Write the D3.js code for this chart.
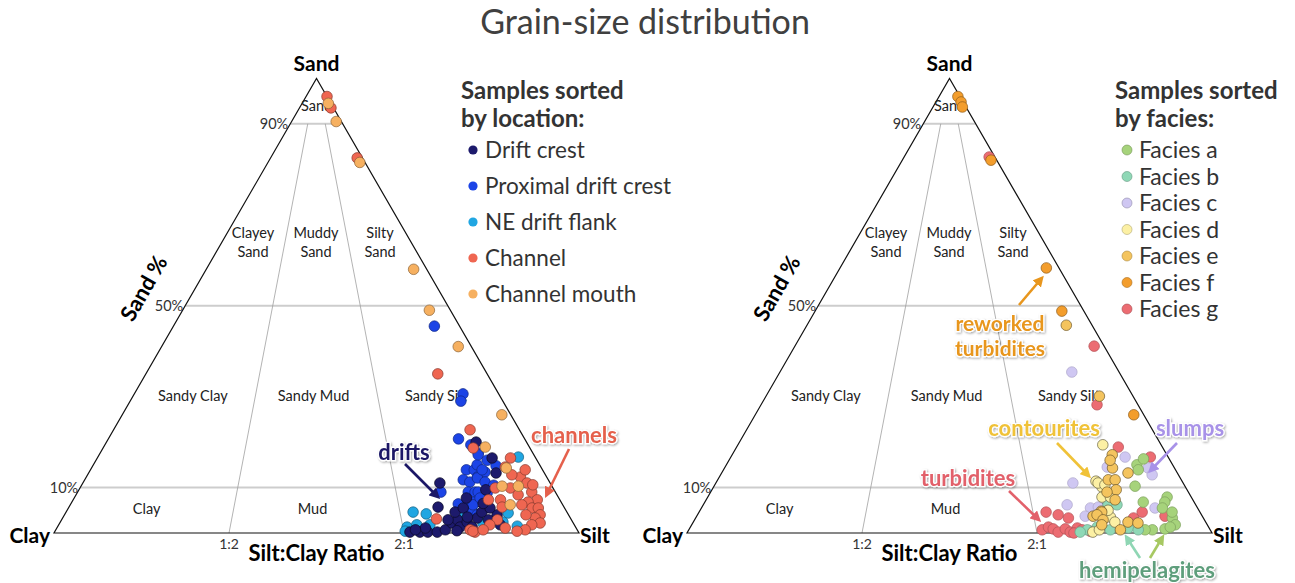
<!DOCTYPE html>
<html>
<head>
<meta charset="utf-8">
<script src="https://cdn.jsdelivr.net/npm/d3@7"></script>
<style>
  body { margin: 0; background: #fff; }
  svg { display: block; font-family: Lato, "Open Sans", sans-serif; }
</style>
</head>
<body>
<svg id="chart" width="1295" height="583"></svg>
<script>
// each sample is [sand %, silt %] (clay = the rest)
const driftCrest = [[11,68],[5.7,70.3],[0.2,67.7],[0.2,69.6],[0.2,71.1],[0.2,72.9],[0.7,74.2],[2.2,74.7],[2.9,75.4],[1.3,76.7],[2.4,77.5],[1.3,79],[3.3,79],[2.9,73.6],[16.5,75.2],[13.2,77.6],[4,82.4],[2.9,81.3],[20,70.4],[4.6,74.1],[5.5,75.2],[4.6,79.2],[5.5,80.3],[1.1,70.2],[0.7,68.5],[7.7,74.7],[1.8,84.1],[9.5,77.5],[3.5,77],[0.5,76.5],[6.5,78.5]];
const proximalCrest = [[45.5,49.7],[30.6,62.6],[29,63],[20.7,66.7],[19.4,69.7],[17.6,72],[13.9,71.6],[13.9,73.1],[11.7,72.1],[11.2,73.6],[12.3,74.5],[9,74.4],[9,75.7],[6.8,75.3],[6.8,76.4],[4.6,76.9],[9,69.2],[6.4,73.8],[15,73.1],[13.4,75.4],[12.1,74.6],[11.2,76.5],[9,76.3],[8.8,78.1],[6.2,76.7],[5.5,79.4],[4,78.6],[17.2,72.2],[13.9,74.6],[7.7,77.3],[16,74.5],[10.5,78.5],[14.8,76.8]];
const neFlank = [[16.7,80.1],[4.6,66.1],[4.2,68.8],[1.3,66.6],[1.8,68.2],[1.8,70.7],[4,76.3],[4.4,84.3],[2.4,84.3],[2.2,80.6],[0.4,66.7],[1.5,87.5]];
const channel = [[96,4],[93.5,6],[82.5,16.5],[35,55.6],[22.7,67.9],[18.7,70.5],[3.1,71.3],[0.7,78.9],[0.2,80.1],[16.5,78.7],[14.5,78.7],[12.3,82.7],[11,84.6],[9.9,82],[9.9,79.1],[8.4,84.2],[9,86.5],[7.3,88.4],[6.8,86.9],[5.5,88.3],[5.5,89.5],[4,90.6],[3.3,90],[2.2,91.5],[1.8,90.1],[0.7,89.4],[0.4,88],[7.3,81.4],[5.7,82.5],[7.3,79.1],[2.9,83],[1.8,82.1],[1.1,85.4],[0.4,79.6],[0.7,81.4],[13.9,82.8],[12.8,80.8],[10.6,85.9],[6.2,86],[4,87.9]];
const channelMouth = [[94.5,5],[90.5,8.5],[81.5,17.5],[58,39.5],[49,47],[41,56.5],[26,72.3],[18.9,72.7],[14.3,79],[10.3,83.3],[10.3,80.2],[6.2,83.8]];

const faciesA = [[15,78.2],[16.3,78.8],[13.9,79],[10.3,80.2],[6.8,83.5],[7.9,87.5],[6.8,87.6],[5.5,87.8],[3.3,90.8],[1.8,92.1],[0.7,88.3],[0.9,90.6],[1.3,91.4],[4.6,90.1],[0.7,86.9]];
const faciesB = [[0.7,75.9],[1.3,77.5],[6.2,77.1],[6.2,78.8],[1.1,83.5],[0.7,85.6],[0.7,80.3],[0.2,74.8]];
const faciesC = [[35.4,55.6],[11,68],[5.5,74.1],[3.7,74],[5.7,75.5],[16.7,75.1],[14.5,72.8],[14.3,80.7],[12.8,82.2],[5.5,86.4],[6.2,69.3]];
const faciesD = [[19.4,69.5],[11.4,72.2],[10.1,74],[11,72.8],[10.6,74.3],[7.9,75.1],[7.9,76.7],[3.5,78.9],[2.4,80.3],[0.2,77.2],[5,77.7],[0.7,78.2]];
const faciesE = [[45.7,49.4],[30.1,63.5],[3.7,75.5],[4.8,76.5],[17.2,72.4],[14.3,73.9],[13.2,77.4],[11.7,74.4],[11.7,75.7],[9.5,77],[9,75.5],[7.3,77.9],[4.6,76.7],[4,76.1],[2.9,77.8],[1.8,78.1],[2.4,82.8],[2.2,84.8],[0.7,82.2],[16,72.6]];
const faciesF = [[96,3.6],[94.8,4.8],[93.7,5.6],[82,16.9],[58.3,39.3],[48.8,47],[26,72.1]];
const faciesG = [[82.7,16.2],[41.1,57],[28.2,64],[4.6,66.1],[4,68.7],[3.3,71],[0.7,67.3],[1.3,68.2],[0.9,69.3],[0.2,70.6],[0.9,71.6],[0.2,72.9],[1.1,73.8],[0,73.7],[0.7,74.9],[18.9,72.7],[16.7,79.9],[4.6,84.4],[3.3,83.4],[3.7,89.2],[0.4,76.6]];

const locationNames = ["Drift crest", "Proximal drift crest", "NE drift flank", "Channel", "Channel mouth"];
const faciesNames = ["Facies a", "Facies b", "Facies c", "Facies d", "Facies e", "Facies f", "Facies g"];

const sandTicks = [10, 50, 90];            // horizontal lines, % sand
const ratioTicks = [1/3, 2/3];             // silt share of mud
const ratioLabels = ["1:2", "2:1"];

// Folk class names: [lines, sand %, silt %]
const classLabels = [
  [["Sand"], 94, 3],
  [["Clayey", "Sand"], 63.8, 6],
  [["Muddy", "Sand"], 63.8, 18],
  [["Silty", "Sand"], 63.8, 30.2],
  [["Sandy Clay"], 30.1, 11.4],
  [["Sandy Mud"], 30.1, 34.4],
  [["Sandy Silt"], 30.1, 57.7],
  [["Clay"], 5.3, 15],
  [["Mud"], 5.3, 46.6],
  [["Silt"], 5.3, 76.5]
];

const svg = d3.select("#chart");
const W = 525, H = W * Math.sqrt(3) / 2, baseY = 533;

// drop shadow for the callout words
const defs = svg.append("defs");
defs.append("filter").attr("id", "shadow").attr("x", "-10%").attr("y", "-20%").attr("width", "130%").attr("height", "150%")
  .append("feDropShadow").attr("dx", 1).attr("dy", 1.2).attr("stdDeviation", 0.8)
  .attr("flood-color", "#000").attr("flood-opacity", 0.35);

svg.append("text")
  .attr("x", 645).attr("y", 34)
  .attr("text-anchor", "middle")
  .attr("font-size", 34).attr("fill", "#404040")
  .text("Grain-size distribution");

function drawPanel(x0, groups) {
  const g = svg.append("g");
  const x = d3.scaleLinear().domain([0, 100]).range([x0, x0 + W]);
  const y = d3.scaleLinear().domain([0, 100]).range([baseY, baseY - H]);
  const px = d => x(d[1] + d[0] / 2);
  const py = d => y(d[0]);

  g.selectAll(".hline").data(sandTicks).join("line")
    .attr("x1", s => x(s / 2)).attr("x2", s => x(100 - s / 2))
    .attr("y1", s => y(s)).attr("y2", s => y(s))
    .attr("stroke", "#cdcdcd").attr("stroke-width", 2);

  g.selectAll(".tick").data(sandTicks).join("text")
    .attr("x", s => x(s / 2) - 2).attr("y", s => y(s) + 5)
    .attr("text-anchor", "end").attr("font-size", 14.5).attr("fill", "#333")
    .text(s => s + "%");

  g.selectAll(".rline").data(ratioTicks).join("line")
    .attr("x1", r => x(100 * r)).attr("y1", y(0))
    .attr("x2", r => x(10 * r + 45)).attr("y2", y(90))
    .attr("stroke", "#a0a0a0").attr("stroke-width", 0.8);

  g.selectAll(".rlab").data(ratioTicks).join("text")
    .attr("x", r => x(100 * r)).attr("y", y(0) + 16)
    .attr("text-anchor", "middle").attr("font-size", 14).attr("fill", "#333")
    .text((r, i) => ratioLabels[i]);

  g.append("path")
    .attr("d", `M${x(0)},${y(0)}L${x(100)},${y(0)}L${x(50)},${y(100)}Z`)
    .attr("fill", "none").attr("stroke", "#111").attr("stroke-width", 1.2);

  g.selectAll(".cls").data(classLabels).join("text")
    .attr("text-anchor", "middle").attr("font-size", 14.5).attr("fill", "#222")
    .each(function (d) {
      const t = d3.select(this);
      d[0].forEach((line, i) => {
        t.append("tspan")
          .attr("x", x(d[2] + d[1] / 2))
          .attr("y", y(d[1]) + 5 + (i - (d[0].length - 1) / 2) * 19)
          .text(line);
      });
    });

  // vertex + axis titles
  const bold = sel => sel.attr("font-weight", 700).attr("fill", "#000");
  g.append("text").call(bold).attr("x", x(50)).attr("y", y(100) - 7)
    .attr("text-anchor", "middle").attr("font-size", 21).text("Sand");
  g.append("text").call(bold).attr("x", x(0) - 4).attr("y", y(0) + 10)
    .attr("text-anchor", "end").attr("font-size", 21).text("Clay");
  g.append("text").call(bold).attr("x", x(100) + 1).attr("y", y(0) + 10)
    .attr("text-anchor", "start").attr("font-size", 21).text("Silt");
  g.append("text").call(bold).attr("x", x(50)).attr("y", y(0) + 28)
    .attr("text-anchor", "middle").attr("font-size", 22).text("Silt:Clay Ratio");
  g.append("text").call(bold)
    .attr("transform", `translate(${x(18) + 2},${y(49) - 18}) rotate(-60)`)
    .attr("text-anchor", "middle").attr("font-size", 22).text("Sand %");

  groups.forEach(grp => {
    g.append("g").selectAll("circle").data(grp.data).join("circle")
      .attr("cx", px).attr("cy", py).attr("r", 5.3)
      .attr("fill", grp.color)
      .attr("stroke", d3.color(grp.color).darker(grp.dark || 1.6))
      .attr("stroke-width", 0.7);
  });
  return { x, y };
}

const locColors = ["#1d1a6c", "#1c44e6", "#20a6e2", "#ef6651", "#f6b060"];
const faciesColors = ["#a6d37b", "#8fd8b6", "#cfc7f2", "#fcf0a4", "#f4c45e", "#f39d2c", "#ec6c72"];

drawPanel(54, [
  { data: neFlank, color: locColors[2] },
  { data: proximalCrest, color: locColors[1] },
  { data: driftCrest, color: locColors[0], dark: 3 },
  { data: channel, color: locColors[3] },
  { data: channelMouth, color: locColors[4] }
]);
drawPanel(687, [
  { data: faciesG, color: faciesColors[6], dark: 0.8 },
  { data: faciesC, color: faciesColors[2], dark: 0.5 },
  { data: faciesA, color: faciesColors[0], dark: 0.8 },
  { data: faciesB, color: faciesColors[1], dark: 0.8 },
  { data: faciesD, color: faciesColors[3], dark: 2.5 },
  { data: faciesE, color: faciesColors[4], dark: 2.2 },
  { data: faciesF, color: faciesColors[5], dark: 1.5 }
]);

// legends
function legend(x0, titleLines, names, colors, y0, step, r, fs, stroke) {
  const g = svg.append("g");
  g.selectAll(".lt").data(titleLines).join("text")
    .attr("x", x0).attr("y", (d, i) => 99 + i * 28)
    .attr("font-size", 24).attr("font-weight", 700).attr("fill", "#333")
    .text(d => d);
  const it = g.selectAll(".li").data(names).join("g")
    .attr("transform", (d, i) => `translate(0,${y0 + i * step})`);
  it.append("circle").attr("cx", x0 + 12).attr("cy", 0).attr("r", r)
    .attr("fill", (d, i) => colors[i])
    .attr("stroke", (d, i) => stroke ? d3.color(colors[i]).darker(1) : "none")
    .attr("stroke-width", 0.6);
  it.append("text").attr("x", x0 + 24).attr("y", fs * 0.36)
    .attr("font-size", fs).attr("fill", "#333").text(d => d);
}
legend(461, ["Samples sorted", "by location:"], locationNames, locColors, 150, 36, 4.6, 22.5, false);
legend(1115, ["Samples sorted", "by facies:"], faciesNames, faciesColors, 150, 26.5, 5, 23, true);

// callouts: words + arrows
const callouts = [
  { lines: ["drifts"], color: "#1b1766", x: 404, y: 460, arrows: [[405, 464, 437, 496]] },
  { lines: ["channels"], color: "#e5604c", x: 574, y: 443, arrows: [[569, 449, 547, 494]] },
  { lines: ["reworked", "turbidites"], color: "#e8961d", x: 1000, y: 331, arrows: [[1019, 305, 1041, 279]] },
  { lines: ["contourites"], color: "#f0c238", x: 1044, y: 436, arrows: [[1057, 443, 1088, 475]] },
  { lines: ["slumps"], color: "#a892e8", x: 1190, y: 436, arrows: [[1177, 443, 1151, 470]] },
  { lines: ["turbidites"], color: "#e2616b", x: 968, y: 486, arrows: [[1009, 491, 1038, 519]] },
  { lines: ["hemipelagites"], color: "#5e9e7c", x: 1147, y: 578,
    arrows: [[1140, 558, 1127, 538, "#8fd6b4"], [1150, 558, 1162, 538, "#a7c862"]] }
];
callouts.forEach((c, k) => {
  c.arrows.forEach((a, j) => {
    const col = a[4] || c.color;
    const id = `ah${k}_${j}`;
    defs.append("marker").attr("id", id).attr("viewBox", "0 0 10 10")
      .attr("refX", 6).attr("refY", 5).attr("markerWidth", 4.2).attr("markerHeight", 4.2)
      .attr("orient", "auto")
      .append("path").attr("d", "M0,0L10,5L0,10Z").attr("fill", col);
    svg.append("line")
      .attr("x1", a[0]).attr("y1", a[1]).attr("x2", a[2]).attr("y2", a[3])
      .attr("stroke", col).attr("stroke-width", 2.6)
      .attr("marker-end", `url(#${id})`);
  });
  const t = svg.append("text")
    .attr("text-anchor", "middle").attr("font-size", c.lines.length > 1 ? 21 : 22).attr("font-weight", 700)
    .attr("fill", c.color).attr("stroke", "#fff").attr("stroke-width", 2.5)
    .attr("paint-order", "stroke").attr("filter", "url(#shadow)");
  c.lines.forEach((l, i) => t.append("tspan").attr("x", c.x).attr("y", c.y + i * 25).text(l));
});
</script>
</body>
</html>
